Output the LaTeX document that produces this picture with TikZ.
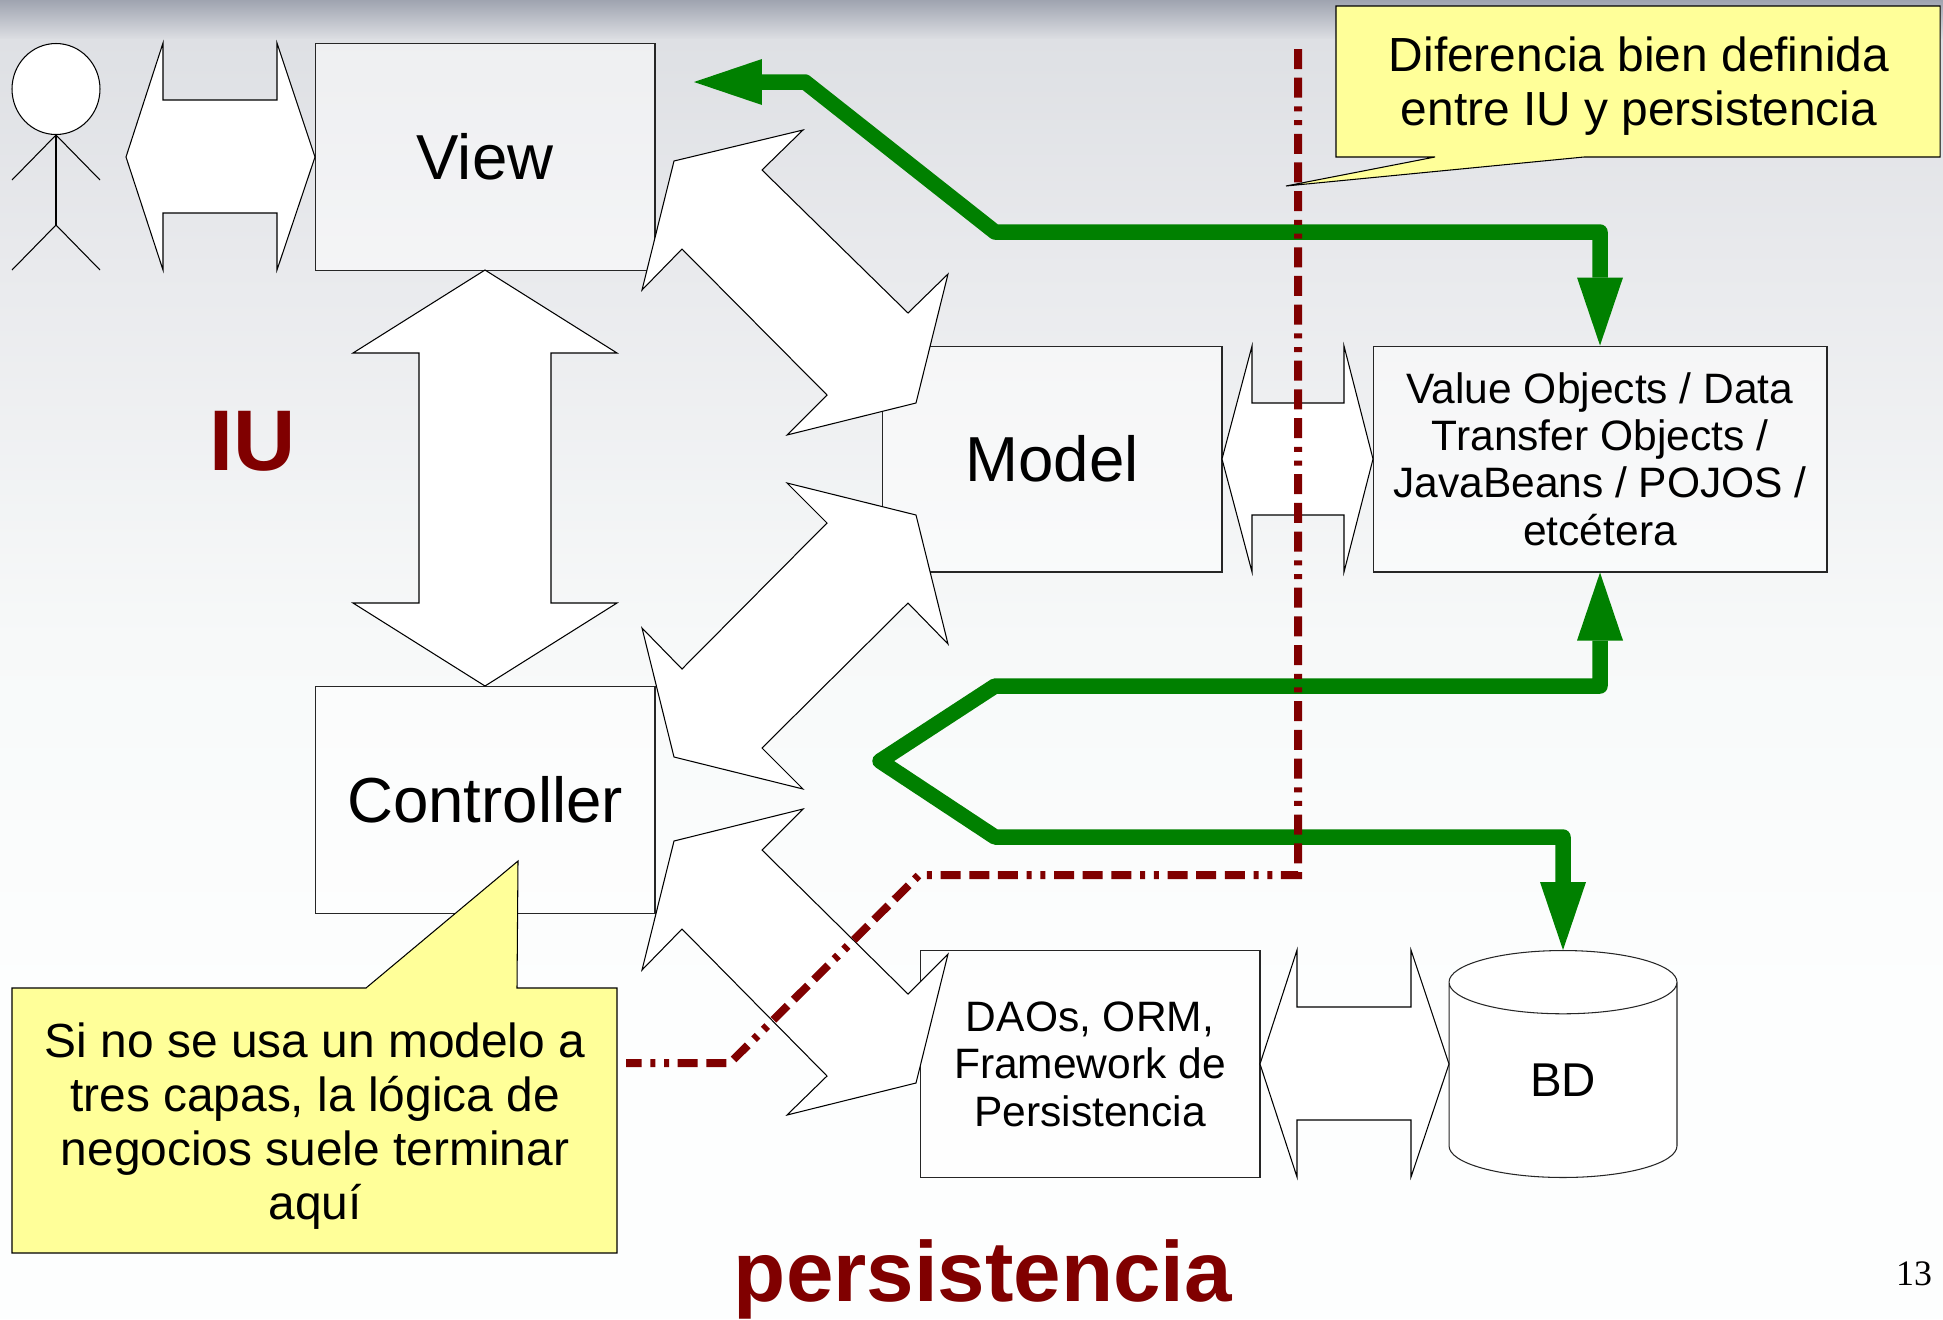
\documentclass[tikz,border=0pt]{standalone}
\usepackage{xcolor}
\usepackage{fontspec}
\setmainfont{Liberation Sans}
\newfontfamily\pagefont{Liberation Serif}
\usetikzlibrary{arrows.meta,shapes.geometric}
\definecolor{flowgreen}{HTML}{008000}
\definecolor{splitred}{HTML}{800000}
\definecolor{noteyellow}{HTML}{FFFF99}
\definecolor{slidetop}{HTML}{9FA4B0}
\definecolor{slidemid}{HTML}{DEE0E4}
\definecolor{slidelow}{HTML}{E9EAED}
\definecolor{slidepale}{HTML}{F7F9F9}
\definecolor{slideend}{HTML}{FDFEFE}
\tikzset{
  tier/.style={draw=black!85, rectangle, fill=white, fill opacity=0.5, text opacity=1, inner sep=0pt, line width=0.6pt},
  bigtext/.style={font=\fontsize{36.2pt}{42pt}\selectfont},
  smalltext/.style={font=\fontsize{24.2pt}{27pt}\selectfont, align=center},
  notetext/.style={font=\fontsize{27.25pt}{30.6pt}\selectfont, align=center},
  blockarrow/.style={draw, fill=white, line width=0.6pt, line join=miter},
  notebox/.style={draw, fill=noteyellow, line width=0.6pt},
  stick/.style={draw, line width=0.6pt},
  greenline/.style={draw=flowgreen, line width=0.31cm, line join=round,
    {Triangle[length=1.36cm,width=0.92cm,line width=0pt]}-{Triangle[length=1.36cm,width=0.92cm,line width=0pt]}},
  redline/.style={draw=splitred, line width=0.16cm,
    dash pattern=on 0.4cm off 0.174cm on 0.4cm off 0.174cm on 0.1cm off 0.174cm on 0.1cm off 0.174cm on 0.4cm off 0.174cm},
}

\begin{document}
\begin{tikzpicture}[x=0.02cm, y=-0.02cm]
\useasboundingbox (0,0) rectangle (1943,1319);
\fill[top color=slidetop, bottom color=slidemid] (0,0) rectangle (1943,40);
\fill[top color=slidemid, bottom color=slidelow] (0,39) rectangle (1943,270);
\fill[top color=slidelow, bottom color=slidepale] (0,269) rectangle (1943,640);
\fill[top color=slidepale, bottom color=slideend] (0,639) rectangle (1943,1000);
\fill[slideend] (0,999) rectangle (1943,1319);

\node[tier, bigtext, minimum width=6.8cm, minimum height=4.54cm] (view) at (485,157) {View};
\node[tier, bigtext, minimum width=6.8cm, minimum height=4.52cm] (model) at (1052,459) {Model};
\node[tier, bigtext, minimum width=6.8cm, minimum height=4.54cm] (controller) at (485,800) {Controller};
\node[tier, smalltext, minimum width=9.08cm, minimum height=4.52cm] (values) at (1600,459) {Value Objects / Data\\Transfer Objects /\\JavaBeans / POJOS /\\etcétera};
\node[tier, smalltext, minimum width=6.8cm, minimum height=4.54cm] (daos) at (1090,1064) {DAOs, ORM,\\Framework de\\Persistencia};
\node[draw=black!85, cylinder, shape border rotate=90, aspect=0.96, anchor=shape center, fill=white, inner sep=0pt, line width=0.6pt, font=\fontsize{27pt}{30pt}\selectfont, minimum width=4.56cm, minimum height=4.54cm] (bd) at (1563,1064) {BD};

\node[draw, ellipse, fill=white, line width=0.6pt, inner sep=0pt, minimum width=1.76cm, minimum height=1.82cm] (head) at (56,89) {};
\coordinate (hip) at (56,225);
\draw[stick] (head.south) -- (hip);
\draw[stick] (12,180) -- (head.south) -- (100,180);
\draw[stick] (12,270) -- (hip) -- (100,270);

\draw[blockarrow] (126,157) -- (163,43) -- (163,100) -- (277,100) -- (277,43) -- (315,157) -- (277,270) -- (277,213) -- (163,213) -- (163,270) -- cycle;
\draw[blockarrow] (485,270) -- (617,353) -- (551,353) -- (551,603) -- (617,603) -- (485,686) -- (353,603) -- (419,603) -- (419,353) -- (353,353) -- cycle;
\draw[blockarrow] (1222,459) -- (1252,346) -- (1252,403) -- (1344,403) -- (1344,346) -- (1373,459) -- (1344,572) -- (1344,515) -- (1252,515) -- (1252,572) -- cycle;
\draw[blockarrow] (1260,1064) -- (1297,950) -- (1297,1007) -- (1411,1007) -- (1411,950) -- (1449,1064) -- (1411,1177) -- (1411,1120) -- (1297,1120) -- (1297,1177) -- cycle;
\draw[blockarrow] (803,130) -- (674,161) -- (642,290) -- (682,249) -- (827,395) -- (787,435) -- (916,403) -- (948,274) -- (908,313) -- (762,170) -- cycle;
\draw[blockarrow] (642,628) -- (674,757) -- (803,789) -- (762,748) -- (908,603) -- (948,644) -- (916,515) -- (787,483) -- (827,523) -- (682,669) -- cycle;
\draw[blockarrow] (803,809) -- (674,841) -- (642,970) -- (682,929) -- (827,1076) -- (787,1115) -- (916,1083) -- (948,954) -- (908,994) -- (762,850) -- cycle;

\coordinate (viewend) at (694,82);
\draw[greenline] (viewend) -- (805,82) -- (995,232) -- (1600,232) -- (values.north);
\draw[greenline] (values.south) -- (1600,686) -- (995,686) -- (880,761) -- (995,837) -- (1563,837) -- (bd.north);

\coordinate (redtop) at (1298,49);
\coordinate (redend) at (626,1063);
\draw[redline] (redtop) -- (1298,875) -- (919,875) -- (730,1063) -- (redend);

\draw[notebox] (1336,6) -- (1940,6) -- (1940,157) -- (1584,157) -- (1286,186) -- (1435,157) -- (1336,157) -- cycle;
\node[notetext] (notesplit) at (1639,86) {Diferencia bien definida\\entre IU y persistencia};
\draw[notebox] (12,988) -- (366,988) -- (518,861) -- (517,988) -- (617,988) -- (617,1253) -- (12,1253) -- cycle;
\node[notetext] (notelogic) at (315,1126) {Si no se usa un modelo a\\tres capas, la lógica de\\negocios suele terminar\\aquí};

\node[text=splitred, font=\fontsize{49pt}{54pt}\selectfont\bfseries] (iu) at (253,441) {IU};
\node[text=splitred, font=\fontsize{48.6pt}{54pt}\selectfont\bfseries] (persist) at (983,1279) {persistencia};
\node[font=\fontsize{20.4pt}{24pt}\selectfont\pagefont] (pagenum) at (1914,1274) {13};
\end{tikzpicture}
\end{document}
